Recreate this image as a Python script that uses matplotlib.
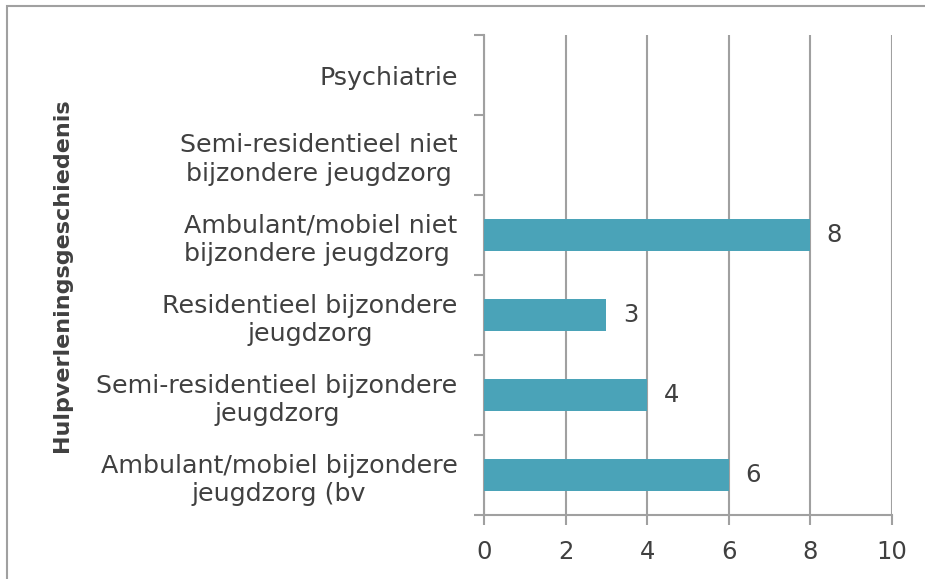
import matplotlib
matplotlib.use("Agg")
import matplotlib.pyplot as plt
from matplotlib.patches import Rectangle
import numpy as np

categories = [
    "Ambulant/mobiel bijzondere\njeugdzorg (bv",
    "Semi-residentieel bijzondere\njeugdzorg",
    "Residentieel bijzondere\njeugdzorg",
    "Ambulant/mobiel niet\nbijzondere jeugdzorg ",
    "Semi-residentieel niet\nbijzondere jeugdzorg",
    "Psychiatrie",
]
values = [6, 4, 3, 8, None, None]
xticks = [0, 2, 4, 6, 8, 10]
ylabel = "Hulpverleningsgeschiedenis"

text_color = "#404040"
bar_color = "#4AA3B8"
grid_color = "#A0A0A0"

plt.rcParams['font.family'] = ['DejaVu Sans']

fig = plt.figure(figsize=(9.25, 5.79), dpi=100)
ax = fig.add_axes([484/925, 1-515/579, (892-484)/925, (515-35)/579])

# outer frame
fig.patches.append(Rectangle((6.5/925, -0.1), 1.2, (1-6.5/579)+0.1, transform=fig.transFigure,
                             fill=False, edgecolor="#A0A0A0", linewidth=1.5))

y = np.arange(len(categories))
for yi, v in zip(y, values):
    if v is None:
        continue
    ax.barh(yi, v, height=0.39, color=bar_color, zorder=3)
    ax.text(v + 0.4, yi, str(v), va="center", ha="left", fontsize=17.5, color=text_color)

ax.set_xlim(0, 10)
ax.set_ylim(-0.5, len(categories) - 0.5)
ax.set_xticks(xticks)
ax.set_xticklabels([str(t) for t in xticks], fontsize=17.5, color=text_color)
ax.xaxis.grid(True, color=grid_color, linewidth=1.5, zorder=0)
ax.set_axisbelow(True)

ax.set_yticks(y)
ax.set_yticklabels(categories, fontsize=18.3, color=text_color, multialignment="center",
                   linespacing=1.25)
ax.tick_params(axis="y", which="major", length=0, pad=19)
ax.set_yticks(np.arange(-0.5, len(categories), 1), minor=True)
ax.tick_params(axis="y", which="minor", length=7, width=1.5, color=grid_color, direction="out")
ax.tick_params(axis="x", length=7, width=1.5, color=grid_color, pad=11)

for s in ["top", "right"]:
    ax.spines[s].set_visible(False)
for s in ["left", "bottom"]:
    ax.spines[s].set_color(grid_color)
    ax.spines[s].set_linewidth(1.5)

fig.text(62/925, 1-275/579, ylabel, rotation=90, ha="center", va="center",
         fontsize=16, fontweight="bold", color=text_color)

fig.savefig("out.png", dpi=100)
